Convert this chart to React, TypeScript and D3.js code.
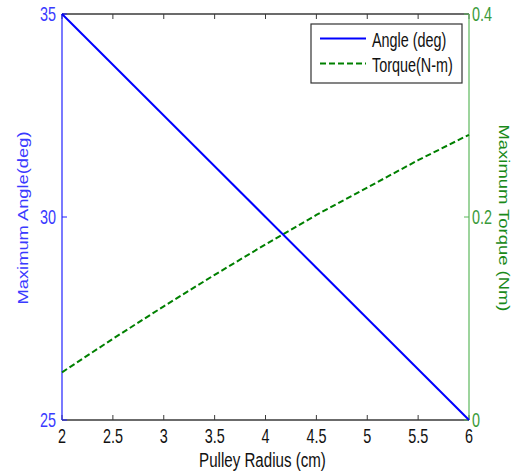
import React from "react";
import * as d3 from "d3";

const radius = [2, 2.5, 3, 3.5, 4, 4.5, 5, 5.5, 6];
const angleDeg = [35, 33.75, 32.5, 31.25, 30, 28.75, 27.5, 26.25, 25];
const torqueNm = [0.047, 0.08, 0.112, 0.143, 0.173, 0.202, 0.229, 0.256, 0.281];
const xTicks = [2, 2.5, 3, 3.5, 4, 4.5, 5, 5.5, 6];
const leftTicks = [25, 30, 35];
const rightTicks = [0, 0.2, 0.4];

const W = 513, H = 474;
const L = 62, R = 469, T = 14, B = 420;
const FONT = "'Liberation Sans', Arial, sans-serif";
const SX = 0.72;

function Txt({ x, y, size, fill, anchor = "start", children }: any) {
  return (
    <text
      transform={`translate(${x},${y}) scale(${SX},1)`}
      fontSize={size}
      fill={fill}
      textAnchor={anchor}
      fontFamily={FONT}
    >
      {children}
    </text>
  );
}

export default function App() {
  const x = d3.scaleLinear().domain([2, 6]).range([L, R]);
  const yL = d3.scaleLinear().domain([25, 35]).range([B, T]);
  const yR = d3.scaleLinear().domain([0, 0.4]).range([B, T]);

  const angleLine = d3.line<number>().x((_, i) => x(radius[i])).y((d) => yL(d))(angleDeg) || "";
  const torqueLine = d3.line<number>().x((_, i) => x(radius[i])).y((d) => yR(d))(torqueNm) || "";

  const fmt = (v: number) => String(v);

  return (
    <svg width={W} height={H} style={{ position: "absolute", left: 0, top: 0, background: "#fff" }}>
      <rect x={0} y={0} width={W} height={H} fill="#fff" />
      {/* top & bottom axis */}
      <line x1={L} x2={R} y1={T} y2={T} stroke="#3a3a3a" strokeWidth={1.5} />
      <line x1={L} x2={R} y1={B} y2={B} stroke="#3a3a3a" strokeWidth={1.5} />
      {xTicks.map((t) => (
        <g key={"xt" + t}>
          <line x1={x(t)} x2={x(t)} y1={B} y2={B - 5} stroke="#3a3a3a" strokeWidth={1} />
          <line x1={x(t)} x2={x(t)} y1={T} y2={T + 5} stroke="#3a3a3a" strokeWidth={1} />
          <Txt x={x(t)} y={443} size={20} fill="#111" anchor="middle">{fmt(t)}</Txt>
        </g>
      ))}
      {/* left axis */}
      <line x1={L} x2={L} y1={T} y2={B} stroke="#2020ff" strokeWidth={1.2} />
      {leftTicks.map((t) => (
        <g key={"lt" + t}>
          <line x1={L} x2={L + 5} y1={yL(t)} y2={yL(t)} stroke="#2020ff" strokeWidth={1} />
          <Txt x={56} y={yL(t) + 7} size={20} fill="#3a3aff" anchor="end">{fmt(t)}</Txt>
        </g>
      ))}
      {/* right axis */}
      <line x1={R} x2={R} y1={T} y2={B} stroke="#5cb85c" strokeWidth={1.2} />
      {rightTicks.map((t) => (
        <g key={"rt" + t}>
          <line x1={R} x2={R - 5} y1={yR(t)} y2={yR(t)} stroke="#5cb85c" strokeWidth={1} />
          <Txt x={472} y={yR(t) + 7} size={20} fill="#3a9a3a" anchor="start">{fmt(t)}</Txt>
        </g>
      ))}
      {/* data */}
      <path d={torqueLine} fill="none" stroke="#008000" strokeWidth={2} strokeDasharray="6,3" />
      <path d={angleLine} fill="none" stroke="#0000ff" strokeWidth={2} />
      {/* axis labels */}
      <Txt x={262.5} y={466.5} size={21} fill="#111" anchor="middle">Pulley Radius (cm)</Txt>
      <text
        transform={`translate(28,218) rotate(-90)`}
        fontSize={15}
        fill="#3a3aff"
        textAnchor="middle"
        fontFamily={FONT}
        textLength={173}
        lengthAdjust="spacingAndGlyphs"
      >
        Maximum Angle(deg)
      </text>
      <text
        transform={`translate(499,218) rotate(90)`}
        fontSize={15}
        fill="#1a8a1a"
        textAnchor="middle"
        fontFamily={FONT}
        textLength={187}
        lengthAdjust="spacingAndGlyphs"
      >
        Maximum Torque (Nm)
      </text>
      {/* legend */}
      <rect x={311} y={24} width={151} height={59} fill="#fff" stroke="#333" strokeWidth={1.2} />
      <line x1={320} x2={366} y1={38.5} y2={38.5} stroke="#0000ff" strokeWidth={2} />
      <Txt x={372} y={47} size={20} fill="#111">Angle (deg)</Txt>
      <line x1={320} x2={366} y1={63.5} y2={63.5} stroke="#008000" strokeWidth={2} strokeDasharray="6,3" />
      <Txt x={372} y={72} size={20} fill="#111">Torque(N-m)</Txt>
    </svg>
  );
}
